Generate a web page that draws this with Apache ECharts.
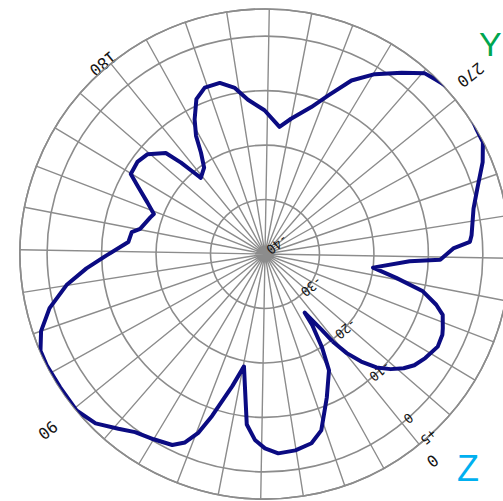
<!DOCTYPE html>
<html>
<head>
<meta charset="utf-8">
<script src="https://cdn.jsdelivr.net/npm/echarts@6/dist/echarts.min.js"></script>
<style>
  html, body { margin: 0; padding: 0; width: 503px; height: 501px; overflow: hidden; background: #fff; }
  #pattern { position: absolute; left: -35px; top: -46px; width: 600px; height: 600px;
             transform: rotate(141deg); transform-origin: 50% 50%; }
  #marks { position: absolute; left: 0; top: 0; width: 503px; height: 501px; }
</style>
</head>
<body>
<div id="pattern"></div>
<div id="marks"></div>
<script>
// Azimuth (degrees) of each sample of the measured pattern
const azimuthDeg = [
  1.3, 2.2, 4.9, 5.4, 7.6, 10.2, 15.7, 21.3, 25.2, 30.2, 35.2, 39.0, 42.1, 45.1, 46.6, 49.6,
  52.9, 57.1, 59.4, 62.0, 64.9, 70.0, 75.1, 79.0, 84.0, 89.3, 96.0, 102.0, 105.7, 110.0,
  114.9, 120.1, 124.4, 128.5, 134.0, 138.3, 140.4, 146.7, 148.8, 152.7, 157.2, 159.8, 164.8,
  169.4, 174.5, 176.4, 177.9, 178.9, 183.8, 186.7, 188.7, 191.4, 195.1, 199.1, 204.2, 208.7,
  212.7, 218.8, 225.5, 229.9, 236.5, 240.7, 245.5, 250.4, 256.0, 260.5, 263.8, 268.0, 273.0,
  278.3, 281.8, 286.1, 291.9, 296.7, 303.8, 305.6, 307.3, 310.9, 311.9, 316.2, 319.3, 322.3,
  325.5, 327.9, 331.7, 333.5, 337.2, 342.0, 345.7, 348.5, 351.5, 354.5, 357.2, 359.5
];
// Relative gain (dB) at each azimuth
const gainDb = [
  -19.7, -22.6, -27.0, -24.3, -19.9, -15.6, -11.3, -6.0, -4.2, -3.5, -3.3, -4.3, -5.8, -8.5, -13.0, -19.0,
  -15.0, -8.7, -5.0, -2.4, -1.0, -0.3, 0.5, 1.9, 4.0, 5.0, 4.9, 5.0, 4.9, 3.5,
  0.8, -3.1, -7.1, -10.9, -14.8, -15.2, -16.6, -17.9, -18.3, -16.4, -13.4, -11.3, -11.1,
  -11.7, -14.0, -17.2, -20.2, -21.7, -20.6, -18.0, -14.9, -12.1, -8.9, -7.5, -7.5, -9.0,
  -11.5, -13.6, -16.5, -14.7, -11.7, -8.7, -4.4, -1.3, 1.7, 4.3, 4.9, 5.8, 6.0,
  5.1, 5.0, 3.4, 0.8, -0.8, -1.9, -2.3, -5.4, -7.8, -13.4, -20.0, -15.5, -10.2,
  -7.2, -5.5, -4.6, -4.2, -4.0, -4.9, -5.8, -7.0, -8.7, -10.8, -13.5, -16.4
];
// Labelled azimuths and dB rings
const angleTicks = [0, 90, 180, 270];
const angleTickLabels = ['0', '90', '180', '270'];
const radiusTicks = [-40, -30, -20, -10, 0, 5];
const radiusTickLabels = ['-40', '-30', '-20', '-10', '0', '+5'];
// Axis-name letters
const axisLetters = ['Y', 'Z'];

const gridColor = '#8c8c8c';
const labelFont = '"DejaVu Sans Mono", "Liberation Mono", monospace';

// Closed trace: repeat the first sample one turn later
const trace = azimuthDeg.map((a, i) => [gainDb[i], a]);
trace.push([gainDb[0], azimuthDeg[0] + 360]);

// Each azimuth label gets its own spacing from the rim
const angleLabelRich = {
  a0:   { padding: [0, 0, 16, 0] },
  a90:  { padding: [0, 0, 0, 28] },
  a180: { padding: [0, 0, 0, 12] },
  a270: { padding: [20, 16, 0, 0] }
};

const pattern = echarts.init(document.getElementById('pattern'), null, { renderer: 'svg' });
pattern.setOption({
  animation: false,
  polar: { center: ['50%', '50%'], radius: 245 },
  angleAxis: {
    type: 'value', min: 0, max: 360, interval: 10,
    startAngle: 90, clockwise: true,
    axisLine: { show: true, lineStyle: { color: gridColor, width: 1.6 } },
    axisTick: { show: false },
    splitLine: { show: true, lineStyle: { color: gridColor, width: 1.4 } },
    axisLabel: {
      margin: -3, fontFamily: labelFont, fontSize: 16, color: '#151515',
      rich: angleLabelRich,
      formatter: v => {
        const k = angleTicks.indexOf(v);
        return k >= 0 ? '{a' + angleTicks[k] + '|' + angleTickLabels[k] + '}' : '';
      }
    }
  },
  radiusAxis: {
    type: 'value', min: -40, max: 5, interval: 10,
    axisLine: { show: false },
    axisTick: { show: false },
    splitLine: { show: true, lineStyle: { color: gridColor, width: 1.6 } },
    axisLabel: {
      margin: 4, fontFamily: labelFont, fontSize: 13, color: '#151515',
      formatter: v => { const k = radiusTicks.indexOf(v); return k >= 0 ? radiusTickLabels[k] : ''; }
    }
  },
  series: [{
    type: 'line', coordinateSystem: 'polar', data: trace,
    symbol: 'none', clip: true, smooth: false,
    lineStyle: { color: '#0b0b82', width: 4, join: 'round' }
  }]
});

const marks = echarts.init(document.getElementById('marks'), null, { renderer: 'svg' });
marks.setOption({
  animation: false,
  graphic: [
    { type: 'text', left: 479, top: 27,
      style: { text: axisLetters[0], fill: '#00a650', font: '34px "Liberation Sans", Arial, sans-serif' } },
    { type: 'text', left: 457, top: 450,
      style: { text: axisLetters[1], fill: '#00b0f0', font: '36px "Liberation Sans", Arial, sans-serif' } }
  ]
});
</script>
</body>
</html>
